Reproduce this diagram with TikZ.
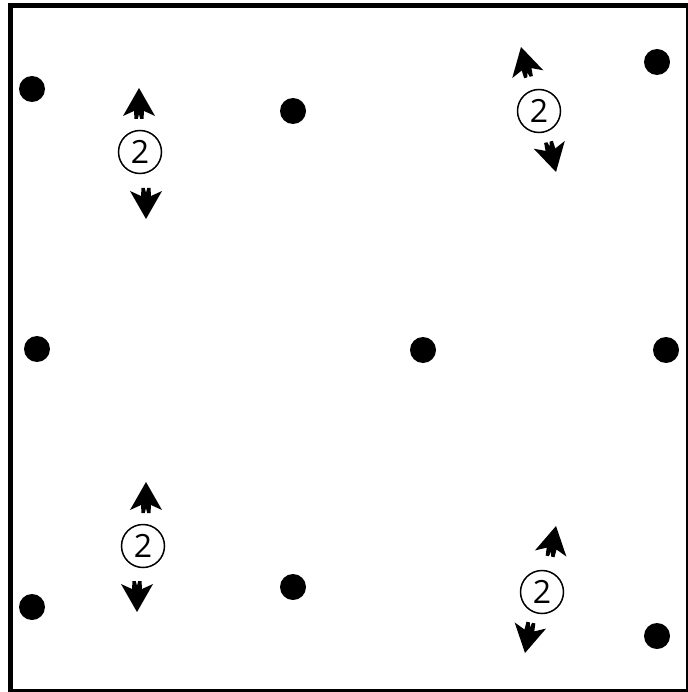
\documentclass[tikz,border=0pt]{standalone}
\usepackage{fontspec}
\setmainfont{Open Sans}
\tikzset{
  dot/.style={circle,fill=black,inner sep=0pt,minimum size=26pt},
  num/.style={circle,draw=black,line width=1.5pt,inner sep=0pt,minimum size=43pt,font=\fontsize{32}{32}\selectfont},
  ahead/.pic={\fill[line join=round] (0,0) -- (16,28) -- (5,23) -- (4.5,31) -- (1.2,31) -- (0,26) -- (-1.2,31) -- (-4.5,31) -- (-5,23) -- (-16,28) -- cycle;}
}
\begin{document}
\begin{tikzpicture}[x=1pt,y=-1pt]
\useasboundingbox (0,0) rectangle (687,692);
\draw[line width=5pt] (10.5,5.5) rectangle (688,691);
% dots
\node[dot] (d1) at (32,89) {};
\node[dot] (d2) at (293,111) {};
\node[dot] (d3) at (657,62) {};
\node[dot] (d4) at (37,349) {};
\node[dot] (d5) at (423,350) {};
\node[dot] (d6) at (666,350) {};
\node[dot] (d7) at (32,607) {};
\node[dot] (d8) at (293,587) {};
\node[dot] (d9) at (657,636) {};
% markers
\node[num] (n1) at (140,152) {2};
\pic[rotate=0] (u1) at (139,88) {ahead};
\pic[rotate=180] (w1) at (146,219) {ahead};

\node[num] (n2) at (539,111) {2};
\pic[rotate=14] (u2) at (521,47) {ahead};
\pic[rotate=194] (w2) at (556,172) {ahead};

\node[num] (n3) at (143,546) {2};
\pic[rotate=0] (u3) at (146,482) {ahead};
\pic[rotate=180] (w3) at (137,612) {ahead};

\node[num] (n4) at (542,592) {2};
\pic[rotate=-11] (u4) at (556,526) {ahead};
\pic[rotate=169] (w4) at (525,653) {ahead};
\end{tikzpicture}
\end{document}
